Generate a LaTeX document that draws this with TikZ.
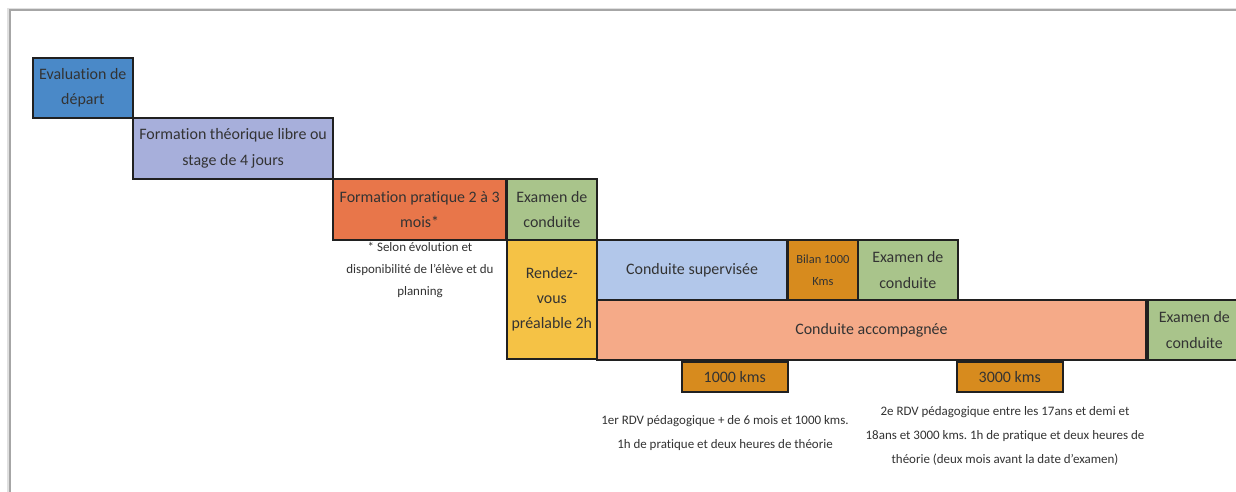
\documentclass[tikz,border=0pt]{standalone}
\usepackage{fontspec}
\setmainfont{Carlito}[Ligatures=NoCommon]
\frenchspacing
\definecolor{evalblue}{HTML}{4A89C8}
\definecolor{lavender}{HTML}{A7AFDB}
\definecolor{pratorange}{HTML}{E8764A}
\definecolor{examgreen}{HTML}{A9C48B}
\definecolor{rdvyellow}{HTML}{F5C245}
\definecolor{supblue}{HTML}{B2C7EA}
\definecolor{kmorange}{HTML}{D78B1E}
\definecolor{accsalmon}{HTML}{F5AA88}
\definecolor{txtgray}{HTML}{333333}
\definecolor{boxline}{HTML}{202020}

\begin{document}
\begin{tikzpicture}[
  x=1bp, y=-1bp,
  box/.style={draw=boxline, line width=2pt, anchor=north west, align=center,
    inner sep=1pt, text=txtgray, font=\fontsize{16}{25.5}\selectfont},
  note/.style={align=center, text=txtgray, font=\fontsize{13}{23.8}\selectfont}
]

% Page and frame
\useasboundingbox (0,0) rectangle (1236,492);
\fill[white] (0,0) rectangle (1236,492);
\draw[black!12, line width=3pt] (8,492) -- (8,9) -- (1236,9);
\draw[black!35, line width=1.2pt] (10,492) -- (10,10) -- (1236,10);

% ── First steps ──
\node[box, fill=evalblue, minimum width=100, minimum height=60]
  (eval) at (32,57) {Evaluation de\\départ};
\node[box, fill=lavender, minimum width=201, minimum height=61]
  (theo) at (132,117) {Formation théorique libre ou\\stage de 4 jours};
\node[box, fill=pratorange, minimum width=174, minimum height=61]
  (prat) at (332,178) {Formation pratique 2 à 3\\mois*};
\node[box, fill=examgreen, minimum width=90, minimum height=61]
  (examA) at (506,178) {Examen de\\conduite};
\node[box, fill=rdvyellow, minimum width=90, minimum height=119]
  (rdv) at (506,239) {Rendez-\\vous\\préalable 2h};

% ── Supervised driving ──
\node[box, fill=supblue, minimum width=191, minimum height=60]
  (sup) at (596,239) {Conduite supervisée};
\node[box, fill=kmorange, minimum width=70, minimum height=60,
  font=\fontsize{12.5}{22}\selectfont]
  (bilan) at (787,239) {Bilan 1000\\Kms};
\node[box, fill=examgreen, minimum width=100, minimum height=60]
  (examB) at (857,239) {Examen de\\conduite};

% ── Accompanied driving ──
\node[box, fill=accsalmon, minimum width=551, minimum height=60]
  (acc) at (596,299) {Conduite accompagnée};
\node[box, fill=examgreen, minimum width=93, minimum height=60]
  (examC) at (1147,299) {Examen de\\conduite};

% ── Mileage checkpoints ──
\node[box, fill=kmorange, minimum width=106, minimum height=30]
  (kmA) at (681,361) {1000 kms};
\node[box, fill=kmorange, minimum width=106, minimum height=30]
  (kmB) at (956,361) {3000 kms};

% ── Notes ──
\node[note, font=\fontsize{13}{22}\selectfont] (pratnote) at (420,270)
  {* Selon évolution et\\disponibilité de l'élève et du\\planning};
\node[note] (rdvA) at (725,433)
  {1er RDV pédagogique + de 6 mois et 1000 kms.\\1h de pratique et deux heures de théorie};
\node[note] (rdvB) at (1005,436)
  {2e RDV pédagogique entre les 17ans et demi et\\18ans et 3000 kms. 1h de pratique et deux heures de\\théorie (deux mois avant la date d'examen)};

\end{tikzpicture}
\end{document}
